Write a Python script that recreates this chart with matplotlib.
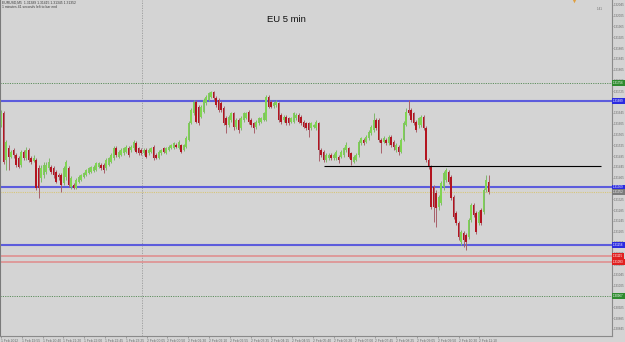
import matplotlib
matplotlib.use('Agg')
import matplotlib.pyplot as plt
from matplotlib.ticker import FormatStrFormatter
import numpy as np
import pandas as pd

# ---------------- data (prices in points, 1 point = 0.00001) ----------------
opens_pt = [
    131600, 131645, 131470, 131515, 131482, 131507, 131489, 131478, 131452, 131500,
    131478, 131507, 131478, 131467, 131470, 131441, 131404, 131415, 131426, 131441,
    131445, 131441, 131426, 131415, 131415, 131385, 131407, 131441, 131370, 131378,
    131367, 131389, 131396, 131407, 131415, 131422, 131426, 131430, 131433, 131445,
    131452, 131452, 131441, 131452, 131463, 131478, 131515, 131482, 131489, 131496,
    131500, 131515, 131507, 131515, 131533, 131515, 131507, 131496, 131507, 131496,
    131500, 131519, 131489, 131478, 131496, 131515, 131496, 131507, 131515, 131515,
    131526, 131515, 131526, 131507, 131519, 131545, 131607, 131645, 131685, 131667,
    131630, 131648, 131682, 131693, 131704, 131722, 131700, 131693, 131682, 131663,
    131626, 131600, 131619, 131645, 131593, 131619, 131589, 131619, 131626, 131648,
    131619, 131607, 131593, 131607, 131611, 131619, 131619, 131704, 131685, 131670,
    131674, 131682, 131637, 131619, 131630, 131626, 131611, 131611, 131626, 131637,
    131630, 131611, 131607, 131607, 131589, 131593, 131589, 131607, 131507, 131500,
    131470, 131478, 131489, 131478, 131478, 131482, 131482, 131489, 131507, 131515,
    131496, 131463, 131470, 131489, 131533, 131545, 131537, 131552, 131570, 131582,
    131619, 131619, 131545, 131537, 131545, 131533, 131556, 131537, 131507, 131519,
    131500, 131545, 131600, 131656, 131656, 131645, 131611, 131600, 131600, 131630,
    131589, 131470, 131445, 131370, 131348, 131296, 131311, 131370,
    131396, 131426, 131407, 131333, 131274, 131237, 131167, 131200, 131193,
    131185, 131248, 131304, 131274, 131237, 131285, 131278, 131359,
    131389,
]
highs_pt = [
    131656, 131652, 131545, 131526, 131507, 131515, 131496, 131485, 131507, 131507,
    131519, 131515, 131485, 131489, 131478, 131452, 131452, 131463, 131463, 131478,
    131452, 131448, 131433, 131422, 131422, 131448, 131470, 131448, 131411, 131385,
    131404, 131415, 131419, 131426, 131437, 131445, 131448, 131452, 131463, 131463,
    131459, 131459, 131478, 131482, 131496, 131522, 131522, 131507, 131515, 131519,
    131526, 131522, 131526, 131545, 131541, 131519, 131515, 131515, 131515, 131515,
    131519, 131526, 131496, 131507, 131511, 131519, 131519, 131526, 131530, 131537,
    131533, 131545, 131530, 131530, 131559, 131615, 131663, 131693, 131693, 131674,
    131674, 131700, 131711, 131722, 131726, 131726, 131707, 131700, 131689, 131670,
    131633, 131637, 131648, 131648, 131626, 131626, 131633, 131648, 131648, 131656,
    131626, 131611, 131619, 131630, 131630, 131648, 131711, 131711, 131693, 131689,
    131693, 131685, 131645, 131637, 131637, 131630, 131630, 131648, 131645, 131645,
    131637, 131619, 131611, 131611, 131611, 131604, 131619, 131611, 131515, 131507,
    131496, 131496, 131496, 131496, 131507, 131489, 131507, 131519, 131537, 131519,
    131500, 131489, 131496, 131545, 131556, 131552, 131563, 131582, 131600, 131645,
    131626, 131626, 131552, 131559, 131552, 131563, 131563, 131545, 131533, 131526,
    131552, 131615, 131663, 131693, 131663, 131648, 131619, 131630, 131637, 131637,
    131596, 131478, 131452, 131378, 131359, 131341, 131393, 131430,
    131441, 131433, 131415, 131341, 131282, 131245, 131211, 131208, 131200,
    131256, 131311, 131311, 131282, 131285, 131293, 131367, 131415,
    131415,
]
lows_pt = [
    131593, 131456, 131433, 131433, 131478, 131478, 131445, 131441, 131445, 131470,
    131470, 131463, 131456, 131463, 131359, 131330, 131389, 131404, 131419, 131433,
    131419, 131404, 131385, 131396, 131352, 131378, 131396, 131370, 131363, 131363,
    131363, 131385, 131393, 131404, 131411, 131419, 131422, 131426, 131430, 131441,
    131433, 131422, 131433, 131448, 131459, 131470, 131482, 131478, 131485, 131489,
    131496, 131482, 131500, 131507, 131496, 131489, 131489, 131489, 131478, 131489,
    131496, 131470, 131474, 131474, 131489, 131496, 131493, 131504, 131511, 131511,
    131515, 131511, 131496, 131504, 131515, 131541, 131604, 131637, 131607, 131600,
    131626, 131645, 131674, 131689, 131700, 131693, 131667, 131648, 131648, 131600,
    131570, 131593, 131611, 131582, 131585, 131570, 131582, 131611, 131622, 131604,
    131593, 131570, 131585, 131600, 131607, 131615, 131615, 131663, 131663, 131663,
    131667, 131611, 131604, 131611, 131600, 131600, 131607, 131607, 131619, 131607,
    131600, 131589, 131582, 131556, 131582, 131589, 131582, 131467, 131482, 131463,
    131463, 131470, 131470, 131470, 131470, 131459, 131478, 131482, 131500, 131478,
    131452, 131459, 131467, 131482, 131526, 131526, 131533, 131545, 131563, 131574,
    131582, 131537, 131496, 131533, 131526, 131526, 131519, 131507, 131500, 131489,
    131496, 131541, 131596, 131637, 131611, 131600, 131574, 131589, 131593, 131582,
    131463, 131437, 131289, 131241, 131222, 131285, 131304, 131359,
    131389, 131382, 131322, 131252, 131230, 131174, 131156, 131148, 131137,
    131178, 131241, 131259, 131196, 131230, 131230, 131270, 131352,
    131345,
]
closes_pt = [
    131645, 131463, 131537, 131482, 131500, 131489, 131452, 131445, 131500, 131478,
    131507, 131470, 131463, 131478, 131367, 131367, 131441, 131452, 131452, 131463,
    131426, 131415, 131389, 131407, 131378, 131441, 131463, 131378, 131404, 131367,
    131396, 131407, 131415, 131422, 131433, 131441, 131445, 131445, 131459, 131459,
    131441, 131433, 131470, 131478, 131489, 131515, 131489, 131500, 131507, 131515,
    131519, 131489, 131519, 131537, 131500, 131496, 131496, 131507, 131482, 131507,
    131515, 131478, 131478, 131500, 131507, 131500, 131515, 131519, 131526, 131533,
    131519, 131537, 131500, 131526, 131552, 131607, 131656, 131685, 131611, 131607,
    131667, 131693, 131704, 131719, 131722, 131700, 131674, 131656, 131656, 131607,
    131600, 131630, 131645, 131593, 131619, 131582, 131626, 131645, 131645, 131611,
    131600, 131589, 131611, 131626, 131626, 131645, 131704, 131667, 131667, 131682,
    131685, 131619, 131611, 131630, 131607, 131607, 131626, 131645, 131637, 131611,
    131607, 131593, 131589, 131582, 131607, 131600, 131611, 131507, 131489, 131470,
    131489, 131489, 131478, 131489, 131500, 131470, 131500, 131515, 131526, 131482,
    131470, 131482, 131489, 131537, 131552, 131533, 131556, 131574, 131593, 131619,
    131589, 131545, 131533, 131552, 131533, 131556, 131526, 131519, 131526, 131500,
    131545, 131607, 131648, 131645, 131619, 131607, 131582, 131626, 131630, 131589,
    131470, 131445, 131296, 131296, 131293, 131333, 131385, 131422,
    131433, 131389, 131330, 131259, 131237, 131185, 131204, 131174, 131167,
    131248, 131304, 131267, 131204, 131278, 131237, 131359, 131396,
    131352,
]

symbol = 'EURUSD,M5'
bar_start = '2012-02-01 19:15'
blue_levels_pt = [131689, 131369, 131156]
red_levels_pt = [131115, 131093]
green_levels_pt = [131756, 130967]
trend_level_pt = 131448
trend_bars = [129, 240]
shift_marker_bar = 229
title = 'EU 5 min'
timer_text = '1:41'
status_text = '1 minutes 41 seconds left to bar end'

# ---------------- figure ----------------
W, H = 625, 342
o = np.array(opens_pt) / 1e5
h = np.array(highs_pt) / 1e5
l = np.array(lows_pt) / 1e5
c = np.array(closes_pt) / 1e5
n = len(o)
times = pd.date_range(bar_start, periods=n, freq='5min')

small = dict(family='Liberation Sans', size=2.2)

bg = '#d4d4d4'
fig = plt.figure(figsize=(W / 100, H / 100), dpi=100)
fig.patch.set_facecolor(bg)
ax = fig.add_axes([0, 6 / H, 612 / W, 336 / H])
ax.set_facecolor(bg)
px_per_bar = 2.5
ax.set_xlim(-1 / px_per_bar, 611 / px_per_bar)
ax.set_ylim(130819 / 1e5, 132063 / 1e5)

x = np.arange(n)

# day separator
sep_idx = [i for i, t in enumerate(times) if t.hour == 0 and t.minute == 0]
for s in sep_idx:
    ax.axvline(s - 0.5, color='#9a9a9a', lw=0.6, ls=(0, (1.5, 1.5)), zorder=1)

# horizontal levels
for lv in green_levels_pt:
    ax.axhline(lv / 1e5, color='#5f8f5f', lw=0.7, ls=(0, (1.2, 1.2)), zorder=1)
for lv in blue_levels_pt:
    ax.axhline(lv / 1e5, color='#5c5cdc', lw=1.5, zorder=1)
for lv in red_levels_pt:
    ax.axhline(lv / 1e5, color='#e08a8a', lw=1.1, zorder=1)
ax.hlines(trend_level_pt / 1e5, trend_bars[0], trend_bars[1], color='black', lw=0.8, zorder=3)
ax.axhline(c[-1], color='#d8c678', lw=0.8, ls=(0, (1, 1)), zorder=1)

# candles
up = c >= o
ax.vlines(x[up], l[up], h[up], color='#7fb76a', lw=0.7, zorder=2)
ax.vlines(x[~up], l[~up], h[~up], color='#a8606a', lw=0.7, zorder=2)
body_lo = np.minimum(o, c)
body_h = np.maximum(np.abs(c - o), 0.00002)
ax.bar(x[up], body_h[up], bottom=body_lo[up], width=0.7, color='#80d452', edgecolor='none', zorder=2.5)
ax.bar(x[~up], body_h[~up], bottom=body_lo[~up], width=0.7, color='#b3141f', edgecolor='none', zorder=2.5)

# chart shift marker at the top
ax.plot([shift_marker_bar], [0.998], transform=ax.get_xaxis_transform(), marker='v',
        ms=2.5, color='#e0a040', mec='none', clip_on=False, zorder=6)

# axes styling
ax.spines['top'].set_visible(False)
ax.spines['left'].set_color('#7a7a7a')
ax.spines['right'].set_color('#8a8a8a')
ax.spines['bottom'].set_color('#8a8a8a')
for sp in ['left', 'right', 'bottom']:
    ax.spines[sp].set_linewidth(0.8)

yt = np.arange(132045, 130819, -40) / 1e5
ax.yaxis.tick_right()
ax.set_yticks(yt)
ax.yaxis.set_major_formatter(FormatStrFormatter('%.5f'))
ax.tick_params(axis='y', length=1.0, width=0.4, pad=0.6,
               colors='#707070', labelcolor='#6a6a6a')
for lab in ax.get_yticklabels():
    lab.set_fontfamily('Liberation Sans')
    lab.set_fontsize(2.2)

label_step = 8.32
xt = [k * label_step for k in range(30) if k * label_step < n - 1]
xl = []
for k, pos in enumerate(xt):
    t = times[int(round(pos))]
    xl.append(f'{t.day} {t:%b} {t:%Y}' if k == 0 else f'{t.day} {t:%b} {t:%H:%M}')
ax.set_xticks(xt)
ax.set_xticklabels(xl, ha='left', fontfamily='Liberation Sans', fontsize=2.4)
ax.tick_params(axis='x', length=1.5, width=0.4, pad=0.8,
               colors='#707070', labelcolor='#6a6a6a')

# price boxes on the right axis
def box(val, fc, tc='white'):
    ax.text(1.002, val, f'{val:.5f}', transform=ax.get_yaxis_transform(),
            color=tc, ha='left', va='center', clip_on=False,
            bbox=dict(boxstyle='square,pad=0.3', fc=fc, ec='none'), zorder=5, **small)

for lv in green_levels_pt:
    box(lv / 1e5, '#2e8b2e')
for lv in blue_levels_pt:
    box(lv / 1e5, '#2a2ae0')
for lv in red_levels_pt:
    box(lv / 1e5, '#e02020')
box(c[-1], '#7a7a7a')

# texts
fig.text(2 / W, 1 - 3 / H,
         f'{symbol}  {o[-1]:.5f} {h[-1]:.5f} {l[-1]:.5f} {c[-1]:.5f}',
         color='#3a3a3a', va='center', ha='left', family='Liberation Sans', size=2.4)
fig.text(2 / W, 1 - 7 / H, status_text, color='#3a3a3a', va='center', ha='left',
         family='Liberation Sans', size=2.4)
fig.text(286 / W, 1 - 19.5 / H, title, fontsize=6.8, family='Liberation Sans',
         color='#111111', ha='center', va='center')
fig.text(600 / W, 1 - 9 / H, timer_text, color='#707070', ha='center', va='center', **small)

fig.savefig('out.png', dpi=100, facecolor=bg)
